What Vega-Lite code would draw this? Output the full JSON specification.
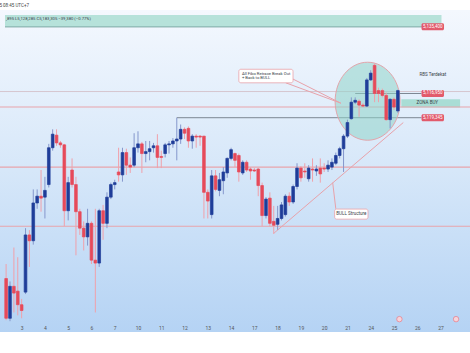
{
  "$schema": "https://vega.github.io/schema/vega-lite/v6.json",
  "width": 470,
  "height": 322,
  "autosize": "none",
  "padding": {"top": 10, "bottom": 21, "left": 0, "right": 0},
  "background": "white",
  "title": {"text": "5 08:45 UTC+7", "anchor": "start", "fontSize": 4.5, "fontWeight": "normal", "color": "#444444", "offset": 3, "font": "Roboto"},
  "config": {
    "font": "Roboto",
    "axisX": {"labelOverlap": false, "labelSeparation": 0, "labelFlush": false, "grid": false, "domain": false, "ticks": false},
    "view": {"stroke": null, "fill": {"gradient": "linear", "x1": 0, "y1": 0, "x2": 0, "y2": 1, "stops": [{"offset": 0, "color": "#f4f8fe"}, {"offset": 0.5, "color": "#d6e7f9"}, {"offset": 1, "color": "#b5d3f4"}]}}
  },
  "datasets": {
    "candles": [
{"i":0,"o":5066500,"h":5070475,"l":5055105,"c":5055635},
{"i":1,"o":5055635,"h":5065705,"l":5054840,"c":5064380},
{"i":2,"o":5064380,"h":5074980,"l":5057225,"c":5062525},
{"i":3,"o":5063055,"h":5072330,"l":5056430,"c":5059345},
{"i":4,"o":5059345,"h":5060935,"l":5055635,"c":5057755},
{"i":5,"o":5062790,"h":5080280,"l":5062260,"c":5078425},
{"i":6,"o":5078425,"h":5079750,"l":5069680,"c":5076835},
{"i":7,"o":5076835,"h":5090880,"l":5075775,"c":5087170},
{"i":8,"o":5087170,"h":5090880,"l":5085580,"c":5089025},
{"i":9,"o":5089025,"h":5096180,"l":5084785,"c":5088495},
{"i":10,"o":5088760,"h":5094325,"l":5082930,"c":5090615},
{"i":11,"o":5092205,"h":5103335,"l":5091410,"c":5102275},
{"i":12,"o":5102275,"h":5107310,"l":5101480,"c":5105985},
{"i":13,"o":5105720,"h":5107310,"l":5102805,"c":5103600},
{"i":14,"o":5103600,"h":5104130,"l":5102275,"c":5103070},
{"i":15,"o":5103070,"h":5103335,"l":5080810,"c":5085050},
{"i":16,"o":5085050,"h":5094325,"l":5082400,"c":5092735},
{"i":17,"o":5096180,"h":5099360,"l":5091410,"c":5092205},
{"i":18,"o":5092205,"h":5094325,"l":5072860,"c":5084785},
{"i":19,"o":5084785,"h":5085580,"l":5078425,"c":5080280},
{"i":20,"o":5080280,"h":5082135,"l":5074185,"c":5077895},
{"i":21,"o":5077895,"h":5085580,"l":5075510,"c":5081605},
{"i":22,"o":5081605,"h":5082135,"l":5070475,"c":5071535},
{"i":23,"o":5071535,"h":5085580,"l":5057225,"c":5070740},
{"i":24,"o":5070740,"h":5085580,"l":5069680,"c":5085050},
{"i":25,"o":5085050,"h":5086640,"l":5077100,"c":5081605},
{"i":26,"o":5081605,"h":5090085,"l":5080280,"c":5088760},
{"i":27,"o":5088760,"h":5092735,"l":5088230,"c":5092205},
{"i":28,"o":5092205,"h":5093530,"l":5090880,"c":5092735},
{"i":29,"o":5095650,"h":5102275,"l":5093000,"c":5094855},
{"i":30,"o":5094855,"h":5102275,"l":5093000,"c":5100950},
{"i":31,"o":5100950,"h":5102010,"l":5094855,"c":5097505},
{"i":32,"o":5097505,"h":5099625,"l":5095385,"c":5096975},
{"i":33,"o":5097505,"h":5106250,"l":5096975,"c":5102275},
{"i":34,"o":5102275,"h":5106780,"l":5100950,"c":5103335},
{"i":35,"o":5103335,"h":5103865,"l":5095385,"c":5100685},
{"i":36,"o":5100685,"h":5104130,"l":5098300,"c":5101215},
{"i":37,"o":5101215,"h":5104130,"l":5098830,"c":5102010},
{"i":38,"o":5102275,"h":5103600,"l":5100950,"c":5102805},
{"i":39,"o":5102805,"h":5105985,"l":5096710,"c":5099625},
{"i":40,"o":5099890,"h":5101480,"l":5096710,"c":5099625},
{"i":41,"o":5100685,"h":5103600,"l":5099625,"c":5103070},
{"i":42,"o":5103070,"h":5104130,"l":5100685,"c":5103335},
{"i":43,"o":5103335,"h":5104925,"l":5102275,"c":5104130},
{"i":44,"o":5104130,"h":5110490,"l":5098830,"c":5104660},
{"i":45,"o":5104660,"h":5108635,"l":5103335,"c":5107310},
{"i":46,"o":5107310,"h":5107840,"l":5104660,"c":5106250},
{"i":47,"o":5107575,"h":5108105,"l":5102275,"c":5104130},
{"i":48,"o":5104130,"h":5105985,"l":5102010,"c":5105455},
{"i":49,"o":5105455,"h":5105985,"l":5102275,"c":5105190},
{"i":50,"o":5105455,"h":5105720,"l":5102805,"c":5105190},
{"i":51,"o":5105455,"h":5105455,"l":5082930,"c":5090085},
{"i":52,"o":5090085,"h":5090880,"l":5082930,"c":5087700},
{"i":53,"o":5083990,"h":5096180,"l":5082930,"c":5094590},
{"i":54,"o":5094590,"h":5096180,"l":5090350,"c":5090880},
{"i":55,"o":5090615,"h":5095385,"l":5089025,"c":5093530},
{"i":56,"o":5093265,"h":5096975,"l":5089555,"c":5095650},
{"i":57,"o":5095385,"h":5099625,"l":5094060,"c":5099360},
{"i":58,"o":5099360,"h":5102275,"l":5098830,"c":5101745},
{"i":59,"o":5100685,"h":5100950,"l":5096975,"c":5098830},
{"i":60,"o":5100155,"h":5100685,"l":5093000,"c":5095650},
{"i":61,"o":5095385,"h":5098830,"l":5094855,"c":5098300},
{"i":62,"o":5098300,"h":5098830,"l":5095650,"c":5096180},
{"i":63,"o":5096445,"h":5096975,"l":5093530,"c":5095915},
{"i":64,"o":5096180,"h":5096710,"l":5095650,"c":5095915},
{"i":65,"o":5096445,"h":5096710,"l":5089025,"c":5091940},
{"i":66,"o":5091940,"h":5092735,"l":5080810,"c":5083725},
{"i":67,"o":5083725,"h":5088760,"l":5082930,"c":5088230},
{"i":68,"o":5088495,"h":5090085,"l":5080810,"c":5081605},
{"i":69,"o":5082135,"h":5086375,"l":5078690,"c":5081075},
{"i":70,"o":5081340,"h":5086375,"l":5079750,"c":5082930},
{"i":71,"o":5082930,"h":5087435,"l":5082400,"c":5086640},
{"i":72,"o":5083990,"h":5089555,"l":5083460,"c":5089025},
{"i":73,"o":5089025,"h":5090085,"l":5086375,"c":5087435},
{"i":74,"o":5087435,"h":5092205,"l":5086905,"c":5091675},
{"i":75,"o":5091675,"h":5098035,"l":5090880,"c":5096710},
{"i":76,"o":5096710,"h":5097240,"l":5093000,"c":5094060},
{"i":77,"o":5095915,"h":5098035,"l":5094060,"c":5095650},
{"i":78,"o":5093795,"h":5097505,"l":5093000,"c":5096710},
{"i":79,"o":5096445,"h":5099360,"l":5093000,"c":5096180},
{"i":80,"o":5095915,"h":5097505,"l":5094590,"c":5096445},
{"i":81,"o":5096710,"h":5099360,"l":5092735,"c":5095120},
{"i":82,"o":5096710,"h":5098035,"l":5095650,"c":5096445},
{"i":83,"o":5096445,"h":5098830,"l":5095650,"c":5097505},
{"i":84,"o":5096975,"h":5099360,"l":5096180,"c":5098300},
{"i":85,"o":5098035,"h":5100950,"l":5097505,"c":5100155},
{"i":86,"o":5100155,"h":5102540,"l":5099360,"c":5102010},
{"i":87,"o":5102010,"h":5105985,"l":5095650,"c":5105455},
{"i":88,"o":5105455,"h":5109960,"l":5104925,"c":5109165},
{"i":89,"o":5110225,"h":5116055,"l":5109960,"c":5114730},
{"i":90,"o":5114730,"h":5116055,"l":5114200,"c":5115260},
{"i":91,"o":5114995,"h":5115525,"l":5110755,"c":5113935},
{"i":92,"o":5113935,"h":5114465,"l":5113405,"c":5113670},
{"i":93,"o":5113670,"h":5121355,"l":5113405,"c":5120825},
{"i":94,"o":5120825,"h":5123475,"l":5120560,"c":5122680},
{"i":95,"o":5124800,"h":5125330,"l":5114730,"c":5117115},
{"i":96,"o":5117910,"h":5118705,"l":5114730,"c":5117115},
{"i":97,"o":5117910,"h":5118440,"l":5116055,"c":5116585},
{"i":98,"o":5116585,"h":5117380,"l":5109695,"c":5109960},
{"i":99,"o":5109960,"h":5115790,"l":5107575,"c":5115525},
{"i":100,"o":5115525,"h":5116055,"l":5112610,"c":5113405},
{"i":101,"o":5112345,"h":5118175,"l":5111815,"c":5117910}
    ],
    "bands": [
      {"k": "top", "i1": -0.29, "i2": 112.25, "p1": 5135320, "p2": 5138580},
      {"k": "zona", "i1": 101.9, "i2": 117.05, "p1": 5113270, "p2": 5115525}
    ],
    "levels": [
      {"p": 5117645, "k": "gray"},
      {"p": 5113405, "k": "red"},
      {"p": 5096975, "k": "red"},
      {"p": 5080810, "k": "red"}
    ],
    "marks": [
      {"k": "gray", "i1": 90, "i2": 107.1, "p": 5117115},
      {"k": "gray", "i1": 44, "i2": 107.1, "p": 5110490},
      {"k": "teal", "i1": -0.29, "i2": 112.25, "p": 5135320}
    ],
    "circle": [{"i": 93.2, "p": 5114995}],
    "segs": [
      {"i1": 69.1, "p1": 5078955, "i2": 102.4, "p2": 5109165},
      {"i1": 72.1, "p1": 5120030, "i2": 86.3, "p2": 5114465},
      {"i1": 73.9, "p1": 5121090, "i2": 86.3, "p2": 5114465},
      {"i1": 84.2, "p1": 5092735, "i2": 85.0, "p2": 5085580}
    ],
    "boxes": [
      {"i1": 60.0, "i2": 73.97, "p1": 5120030, "p2": 5123740},
      {"i1": 84.7, "i2": 93.3, "p1": 5082745, "p2": 5085500}
    ],
    "notes": [
      {"k": "left", "i": 60.8, "p": 5122547, "t": "All Fibo Retrace Break Out"},
      {"k": "left", "i": 60.8, "p": 5121355, "t": "+ Back to BULL"},
      {"k": "left", "i": 0, "p": 5137387, "t": ",895  L5,128,285  C5,183,305  −39,380 (−0.77%)"},
      {"k": "center", "i": 89.0, "p": 5084125, "t": "BULL Structure"},
      {"k": "center", "i": 110.0, "p": 5122070, "t": "RBS Terdekat"},
      {"k": "center", "i": 108.6, "p": 5114465, "t": "ZONA BUY"}
    ],
    "tags": [
      {"p": 5135400, "t": "5,135,400"},
      {"p": 5117115, "t": "5,116,950"},
      {"p": 5110490, "t": "5,119,345"}
    ],
    "flags": [{"i": 101.4}, {"i": 116.0}]
  },
  "layer": [
    {
      "data": {"name": "bands"},
      "transform": [{"filter": "datum.k == 'top'"}],
      "mark": {"type": "rect", "color": "#b6e2da"},
      "encoding": {
        "x": {"field": "i1", "type": "quantitative", "scale": {"domain": [-0.29, 118.31], "nice": false, "zero": false}, "title": null,
          "axis": {"values": [4,10,16,22,28,34,40,46,52,58,64,70,76,82,88,94,100,106,112], "tickCount": 60, "labelExpr": "'' + (3 + 7*floor((datum.value-4)/30) + ((datum.value-4)/6)%5)", "orient": "bottom", "offset": -8, "domain": false, "ticks": false, "grid": false, "labelFontSize": 5, "labelColor": "#555555", "labelPadding": 1, "labelFont": "Roboto", "title": null, "labelFlush": false, "labelOverlap": false, "labelSeparation": 0, "zindex": 1}},
        "x2": {"field": "i2"},
        "y": {"field": "p1", "type": "quantitative", "scale": {"domain": [5053250, 5138580], "nice": false, "zero": false}, "axis": null, "title": null},
        "y2": {"field": "p2"}
      }
    },
    {
      "data": {"name": "bands"},
      "transform": [{"filter": "datum.k == 'zona'"}],
      "mark": {"type": "rect", "color": "#a9ddd5"},
      "encoding": {
        "x": {"field": "i1", "type": "quantitative", "scale": {"domain": [-0.29, 118.31], "nice": false, "zero": false}, "title": null},
        "x2": {"field": "i2"},
        "y": {"field": "p1", "type": "quantitative", "scale": {"domain": [5053250, 5138580], "nice": false, "zero": false}, "axis": null, "title": null},
        "y2": {"field": "p2"}
      }
    },
    {
      "data": {"name": "levels"},
      "transform": [{"filter": "datum.k == 'gray'"}],
      "mark": {"type": "rule", "strokeWidth": 1, "color": "#d5c6cf"},
      "encoding": {
        "y": {"field": "p", "type": "quantitative", "scale": {"domain": [5053250, 5138580], "nice": false, "zero": false}, "axis": null, "title": null}
      }
    },
    {
      "data": {"name": "levels"},
      "transform": [{"filter": "datum.k == 'red'"}],
      "mark": {"type": "rule", "strokeWidth": 1.1, "color": "#e8a4ab"},
      "encoding": {
        "y": {"field": "p", "type": "quantitative", "scale": {"domain": [5053250, 5138580], "nice": false, "zero": false}, "axis": null, "title": null}
      }
    },
    {
      "data": {"name": "marks"},
      "transform": [{"filter": "datum.k == 'gray'"}],
      "mark": {"type": "rule", "strokeWidth": 1, "color": "#7c8692"},
      "encoding": {
        "x": {"field": "i1", "type": "quantitative", "scale": {"domain": [-0.29, 118.31], "nice": false, "zero": false}, "title": null},
        "x2": {"field": "i2"},
        "y": {"field": "p", "type": "quantitative", "scale": {"domain": [5053250, 5138580], "nice": false, "zero": false}, "axis": null, "title": null}
      }
    },
    {
      "data": {"name": "marks"},
      "transform": [{"filter": "datum.k == 'teal'"}],
      "mark": {"type": "rule", "strokeWidth": 1, "color": "#7fa9a6"},
      "encoding": {
        "x": {"field": "i1", "type": "quantitative", "scale": {"domain": [-0.29, 118.31], "nice": false, "zero": false}, "title": null},
        "x2": {"field": "i2"},
        "y": {"field": "p", "type": "quantitative", "scale": {"domain": [5053250, 5138580], "nice": false, "zero": false}, "axis": null, "title": null}
      }
    },
    {
      "data": {"name": "circle"},
      "mark": {"type": "point", "shape": "M-0.833,0A0.833,1,0,1,1,0.833,0A0.833,1,0,1,1,-0.833,0Z", "size": 6084, "filled": true, "fill": "#8fd3c9", "fillOpacity": 0.55, "stroke": "#e2a5ab", "strokeWidth": 1, "opacity": 1},
      "encoding": {
        "x": {"field": "i", "type": "quantitative", "scale": {"domain": [-0.29, 118.31], "nice": false, "zero": false}, "title": null},
        "y": {"field": "p", "type": "quantitative", "scale": {"domain": [5053250, 5138580], "nice": false, "zero": false}, "axis": null, "title": null}
      }
    },
    {
      "data": {"name": "candles"},
      "mark": {"type": "rule", "strokeWidth": 1},
      "encoding": {
        "x": {"field": "i", "type": "quantitative", "scale": {"domain": [-0.29, 118.31], "nice": false, "zero": false}, "title": null},
        "y": {"field": "l", "type": "quantitative", "scale": {"domain": [5053250, 5138580], "nice": false, "zero": false}, "axis": null, "title": null},
        "y2": {"field": "h"},
        "color": {"condition": {"test": "datum.c >= datum.o", "value": "#8597cc"}, "value": "#f0a0aa"}
      }
    },
    {
      "data": {"name": "candles"},
      "mark": {"type": "bar", "orient": "vertical", "size": 2.7, "strokeWidth": 0.7},
      "encoding": {
        "x": {"field": "i", "type": "quantitative", "scale": {"domain": [-0.29, 118.31], "nice": false, "zero": false}, "title": null},
        "y": {"field": "o", "type": "quantitative", "scale": {"domain": [5053250, 5138580], "nice": false, "zero": false}, "axis": null, "title": null},
        "y2": {"field": "c"},
        "color": {"condition": {"test": "datum.c >= datum.o", "value": "#1f3d99"}, "value": "#e64a5a"},
        "stroke": {"condition": {"test": "datum.c >= datum.o", "value": "#1f3d99"}, "value": "#e64a5a"}
      }
    },
    {
      "data": {"name": "segs"},
      "mark": {"type": "rule", "strokeWidth": 1, "color": "#e8a2aa"},
      "encoding": {
        "x": {"field": "i1", "type": "quantitative", "scale": {"domain": [-0.29, 118.31], "nice": false, "zero": false}, "title": null},
        "x2": {"field": "i2"},
        "y": {"field": "p1", "type": "quantitative", "scale": {"domain": [5053250, 5138580], "nice": false, "zero": false}, "axis": null, "title": null},
        "y2": {"field": "p2"}
      }
    },
    {
      "data": {"name": "boxes"},
      "mark": {"type": "rect", "fill": "#ffffff", "stroke": "#e8a2aa", "strokeWidth": 0.8, "cornerRadius": 2},
      "encoding": {
        "x": {"field": "i1", "type": "quantitative", "scale": {"domain": [-0.29, 118.31], "nice": false, "zero": false}, "title": null},
        "x2": {"field": "i2"},
        "y": {"field": "p1", "type": "quantitative", "scale": {"domain": [5053250, 5138580], "nice": false, "zero": false}, "axis": null, "title": null},
        "y2": {"field": "p2"}
      }
    },
    {
      "data": {"name": "notes"},
      "transform": [{"filter": "datum.k == 'left'"}],
      "mark": {"type": "text", "align": "left", "baseline": "middle", "fontSize": 4.2, "color": "#3a3f4a", "font": "Roboto"},
      "encoding": {
        "x": {"field": "i", "type": "quantitative", "scale": {"domain": [-0.29, 118.31], "nice": false, "zero": false}, "title": null},
        "y": {"field": "p", "type": "quantitative", "scale": {"domain": [5053250, 5138580], "nice": false, "zero": false}, "axis": null, "title": null},
        "text": {"field": "t"}
      }
    },
    {
      "data": {"name": "notes"},
      "transform": [{"filter": "datum.k == 'center'"}],
      "mark": {"type": "text", "align": "center", "baseline": "middle", "fontSize": 4.5, "color": "#3a3f4a", "font": "Roboto"},
      "encoding": {
        "x": {"field": "i", "type": "quantitative", "scale": {"domain": [-0.29, 118.31], "nice": false, "zero": false}, "title": null},
        "y": {"field": "p", "type": "quantitative", "scale": {"domain": [5053250, 5138580], "nice": false, "zero": false}, "axis": null, "title": null},
        "text": {"field": "t"}
      }
    },
    {
      "data": {"name": "tags"},
      "mark": {"type": "bar", "orient": "horizontal", "size": 7, "cornerRadius": 1.5, "color": "#e25a6b"},
      "encoding": {
        "x": {"datum": 107.1, "type": "quantitative", "scale": {"domain": [-0.29, 118.31], "nice": false, "zero": false}, "title": null},
        "x2": {"datum": 112.9},
        "y": {"field": "p", "type": "quantitative", "scale": {"domain": [5053250, 5138580], "nice": false, "zero": false}, "axis": null, "title": null}
      }
    },
    {
      "data": {"name": "tags"},
      "mark": {"type": "text", "align": "center", "baseline": "middle", "fontSize": 4.5, "color": "#ffffff", "font": "Roboto"},
      "encoding": {
        "x": {"datum": 110.0, "type": "quantitative", "scale": {"domain": [-0.29, 118.31], "nice": false, "zero": false}, "title": null},
        "y": {"field": "p", "type": "quantitative", "scale": {"domain": [5053250, 5138580], "nice": false, "zero": false}, "axis": null, "title": null},
        "text": {"field": "t"}
      }
    },
    {
      "data": {"name": "flags"},
      "mark": {"type": "point", "shape": "circle", "size": 30, "filled": true, "fill": "#f7d3da", "stroke": "#e57a88", "strokeWidth": 0.7, "opacity": 1},
      "encoding": {
        "x": {"field": "i", "type": "quantitative", "scale": {"domain": [-0.29, 118.31], "nice": false, "zero": false}, "title": null},
        "y": {"datum": 5055400, "type": "quantitative", "scale": {"domain": [5053250, 5138580], "nice": false, "zero": false}, "axis": null, "title": null}
      }
    }
  ]
}
